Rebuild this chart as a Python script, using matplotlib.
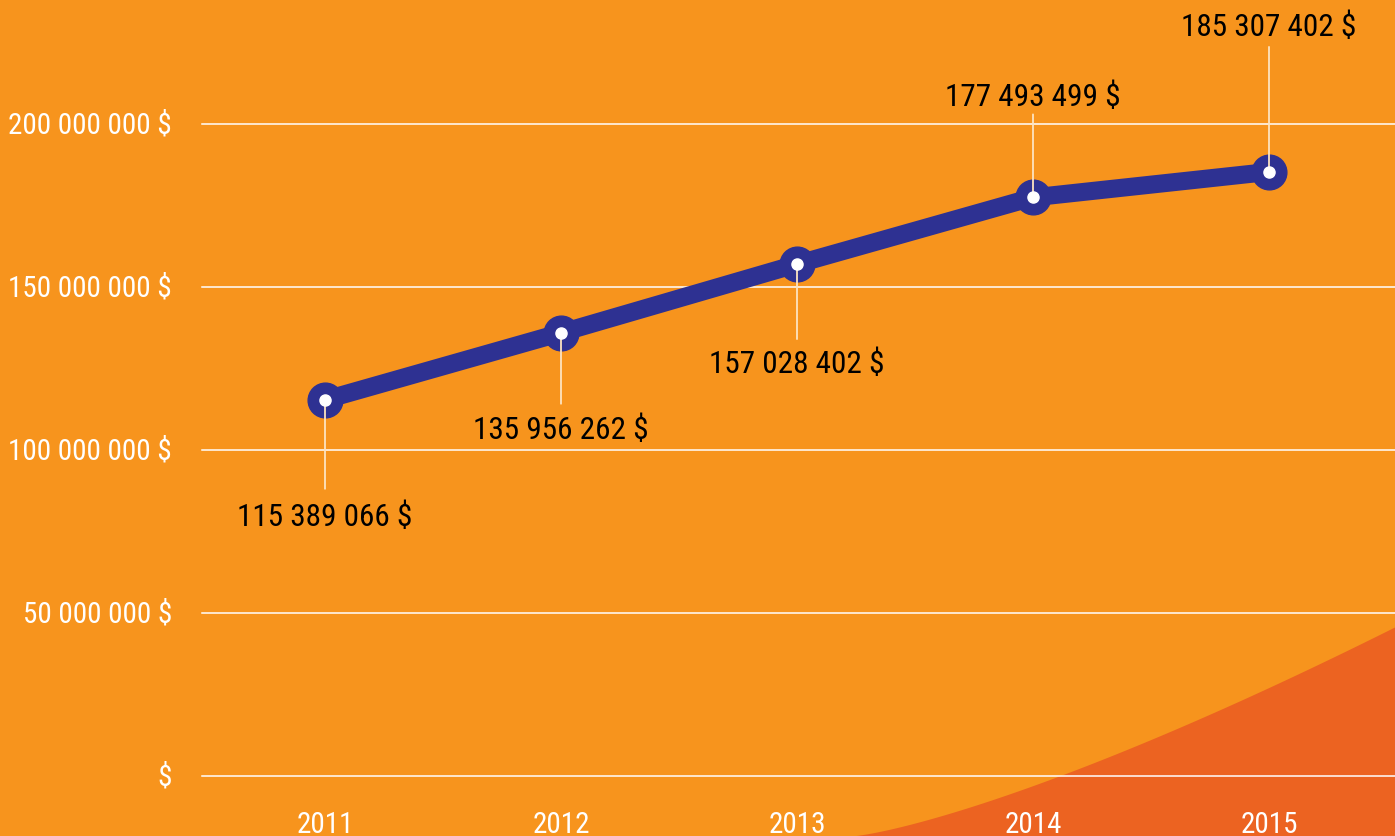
import numpy as np
import matplotlib
matplotlib.use("Agg")
from matplotlib import pyplot as plt
from matplotlib import font_manager

# data
years = [2011, 2012, 2013, 2014, 2015]
budget = [115389066, 135956262, 157028402, 177493499, 185307402]
budget_labels = ["115 389 066 $", "135 956 262 $", "157 028 402 $",
                 "177 493 499 $", "185 307 402 $"]
y_ticks = [0, 50000000, 100000000, 150000000, 200000000]
y_tick_labels = ["$", "50 000 000 $", "100 000 000 $", "150 000 000 $", "200 000 000 $"]
# label offset (pixels, + is up) and leader line length for each point
label_dy = [-116, -96, -99, 101, 146]
leader_dy = [-89, -71, -75, 83, 125]

avail = {f.name for f in font_manager.fontManager.ttflist}
fams = [f for f in ["Roboto Condensed", "Liberation Sans Narrow", "Roboto", "DejaVu Sans"] if f in avail]
plt.rcParams['font.family'] = fams

bg = "#F7941D"
navy = "#2E3192"

fig = plt.figure(figsize=(13.95, 8.37), dpi=100)
fig.patch.set_facecolor(bg)
ax = fig.add_axes([0, 0, 1, 1])
ax.set_facecolor(bg)

px_per_year = 236.0
x0 = 2011 - 325 / px_per_year
x1 = 2015 + 126 / px_per_year
px_per_val = 163 / 50e6
ax.set_xlim(x0, x1)
ax.set_ylim(-60 / px_per_val, 777 / px_per_val)
for s in ax.spines.values():
    s.set_visible(False)
ax.set_xticks([])
ax.set_yticks([])

# decorative swoosh in the lower right corner (axes fraction coords)
sx = np.linspace(0.61, 1.0, 100)
t = (sx - 0.61) / 0.39
sy = 0.25 * t ** 1.3
ax.fill_between(sx, 0, sy, transform=ax.transAxes, color="#EC6321", lw=0, zorder=0)

# gridlines
grid_start = x0 + 202 / px_per_year
for v in y_ticks:
    ax.plot([grid_start, x1], [v, v], color="white", lw=1.1, zorder=1)

for v, lab in zip(y_ticks, y_tick_labels):
    ax.annotate(lab, xy=(grid_start, v), xytext=(-30, -1), textcoords="offset pixels",
                ha="right", va="center", color="white", fontsize=21)

for yr in years:
    ax.annotate(str(yr), xy=(yr, 0), xytext=(0, -34), textcoords="offset pixels",
                ha="center", va="top", color="white", fontsize=21)

ax.plot(years, budget, color=navy, lw=13, solid_capstyle="round", zorder=3)
ax.plot(years, budget, "o", color=navy, markersize=25, zorder=3)
ax.plot(years, budget, "o", color="white", markersize=8, zorder=6)

for yr, v, lab, dy, ly in zip(years, budget, budget_labels, label_dy, leader_dy):
    ax.annotate("", xy=(yr, v), xytext=(0, ly), textcoords="offset pixels",
                arrowprops=dict(arrowstyle="-", color="#FDE3C0", lw=1.3,
                                shrinkA=0, shrinkB=0), zorder=5)
    ax.annotate(lab, xy=(yr, v), xytext=(0, dy), textcoords="offset pixels",
                ha="center", va="center", color="black", fontsize=22.5, zorder=6)

fig.savefig("out.png", dpi=100, facecolor=bg)
